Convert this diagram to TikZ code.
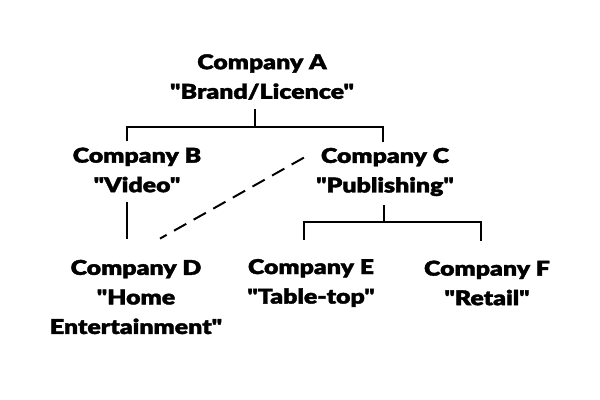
\documentclass[tikz,border=0pt]{standalone}
\usepackage{fontspec}
\setmainfont{Lato}[Ligatures=TeXOff, BoldFont={Lato Black},
  BoldFeatures={FakeStretch=1.22, FakeBold=1.8}]
\usetikzlibrary{calc}
\tikzset{
  company/.style={font=\bfseries\fontsize{14.5}{21}\selectfont, align=center, inner sep=0pt},
  link/.style={line width=1.4pt},
  dashlink/.style={link, dash pattern=on 10pt off 6pt},
}
\begin{document}
\begin{tikzpicture}[x=0.025cm, y=-0.025cm]
  \useasboundingbox (0,0) rectangle (600,400);

  % companies
  \node[company] (A) at (262,77)  {Company A\\"Brand/Licence"};
  \node[company] (B) at (137,170) {Company B\\"Video"};
  \node[company] (C) at (385,172) {Company C\\"Publishing"};
  \node[company] (D) at (136,297) {Company D\\"Home\\Entertainment"};
  \node[company] (E) at (311,283) {Company E\\"Table-top"};
  \node[company] (F) at (487,283) {Company F\\"Retail"};

  % bus bars under A and C
  \coordinate (busA) at (255,127);
  \coordinate (busC) at (384,222);

  % A to B and C
  \draw[link] ($(A.south -| busA)+(0,9)$) -- (busA);
  \draw[link] ($(B.north)+(-10,-6)$) |- (busA) -| ($(C.north)+(-2,-6)$);

  % B to D
  \draw[link] ($(B.south)+(-10,9)$) -- ($(D.north)+(-9,-21)$);

  % C to D (dashed)
  \draw[dashlink] ($(C.north west)+(-12,10)$) -- ($(D.north)+(24,-21)$);

  % C to E and F
  \draw[link] ($(C.south -| busC)+(0,9)$) -- (busC);
  \draw[link] ($(E.north)+(-7,-19)$) |- (busC) -| ($(F.north)+(-6,-19)$);
\end{tikzpicture}
\end{document}
